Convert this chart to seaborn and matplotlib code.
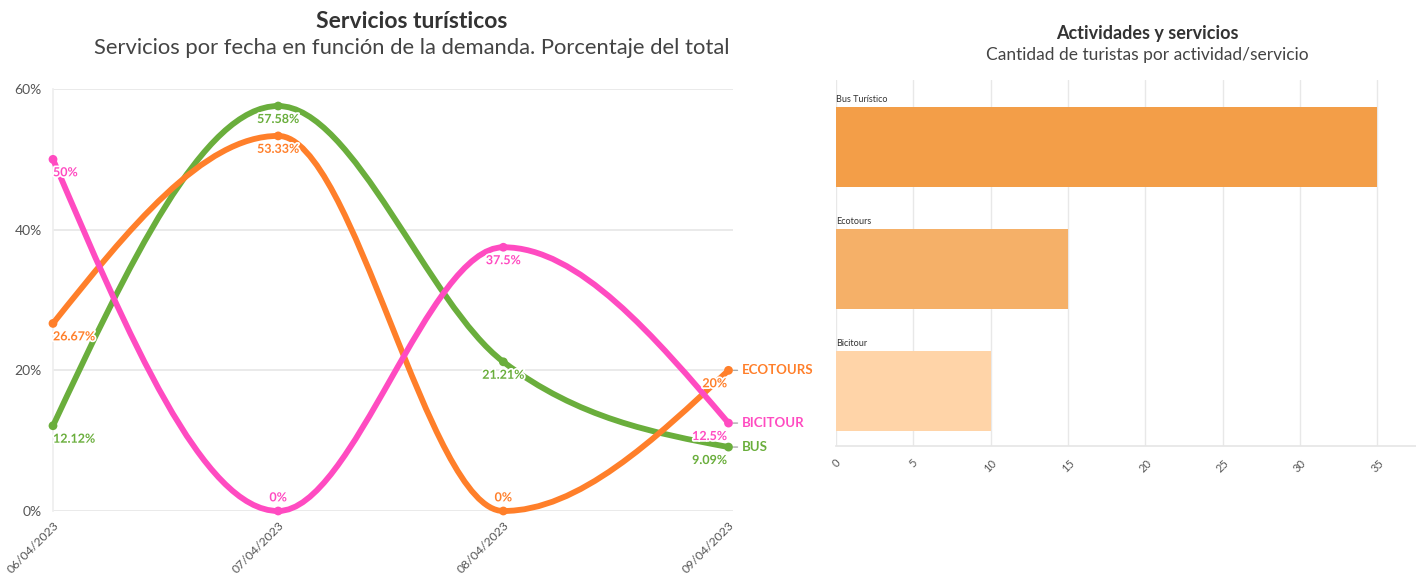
import numpy as np
import pandas as pd
import matplotlib.pyplot as plt
import matplotlib.patheffects as pe
from matplotlib.path import Path
from matplotlib.patches import PathPatch
import seaborn as sns

# datos
fechas = ["06/04/2023", "07/04/2023", "08/04/2023", "09/04/2023"]
series = ["BUS", "ECOTOURS", "BICITOUR"]
bus = [12.12, 57.58, 21.21, 9.09]
ecotours = [26.67, 53.33, 0, 20]
bicitour = [50, 0, 37.5, 12.5]
etiquetas_pct = {
    "BUS": ["12.12%", "57.58%", "21.21%", "9.09%"],
    "ECOTOURS": ["26.67%", "53.33%", "0%", "20%"],
    "BICITOUR": ["50%", "0%", "37.5%", "12.5%"],
}

actividades = ["Bus Turístico", "Ecotours", "Bicitour"]
turistas = [35, 15, 10]

colores = {"BUS": "#6aae3c", "ECOTOURS": "#ff7f2a", "BICITOUR": "#ff4bc1"}
colores_barras = ["#f39e48", "#f5b068", "#ffd4a8"]

sns.set_theme(style="white")
plt.rcParams['font.family'] = ['Lato', 'DejaVu Sans']


def monotone_path(x, y):
    # curva monotona (tipo d3 monotoneX) a partir de los puntos
    x = np.asarray(x, float)
    y = np.asarray(y, float)
    n = len(x)
    h = np.diff(x)
    s = np.diff(y) / h
    t = np.zeros(n)
    for i in range(1, n - 1):
        s0, s1 = s[i - 1], s[i]
        p = (s0 * h[i] + s1 * h[i - 1]) / (h[i - 1] + h[i])
        t[i] = (np.sign(s0) + np.sign(s1)) * min(abs(s0), abs(s1), 0.5 * abs(p))
    t[0] = (3 * s[0] - t[1]) / 2
    t[-1] = (3 * s[-1] - t[-2]) / 2
    verts = [(x[0], y[0])]
    codes = [Path.MOVETO]
    for i in range(n - 1):
        dx = h[i] / 3
        verts += [(x[i] + dx, y[i] + dx * t[i]),
                  (x[i + 1] - dx, y[i + 1] - dx * t[i + 1]),
                  (x[i + 1], y[i + 1])]
        codes += [Path.CURVE4] * 3
    return Path(verts, codes)


fig = plt.figure(figsize=(14.16, 5.77), dpi=100)
W, H = 1416, 577
ax1 = fig.add_axes([53 / W, (H - 511) / H, (733 - 53) / W, (511 - 89) / H])
ax2 = fig.add_axes([836 / W, (H - 446) / H, (W - 836) / W, (446 - 80) / H])

# ---- grafico de lineas
df = pd.DataFrame({"fecha": fechas * 3,
                   "x": list(range(len(fechas))) * 3,
                   "serie": np.repeat(series, len(fechas)),
                   "valor": bus + ecotours + bicitour})

for serie in series:
    d = df[df.serie == serie]
    ax1.add_patch(PathPatch(monotone_path(d.x, d.valor), fill=False,
                            edgecolor=colores[serie], lw=4.2, capstyle='round',
                            clip_on=False, zorder=3))
sns.scatterplot(data=df, x="x", y="valor", hue="serie", palette=colores,
                s=40, edgecolor="none", legend=False, ax=ax1, zorder=4, clip_on=False)

halo = [pe.withStroke(linewidth=2.5, foreground='white')]
for serie in series:
    d = df[df.serie == serie].reset_index(drop=True)
    for i, row in d.iterrows():
        txt = etiquetas_pct[serie][i]
        dy = 5.5 if row.valor == 0 else -5
        va = 'bottom' if row.valor == 0 else 'top'
        if i == 0:
            ha, dx = 'left', 0
        elif i == len(d) - 1:
            ha, dx = 'right', -1
        else:
            ha, dx = 'center', 0
        ax1.annotate(txt, (row.x, row.valor), xytext=(dx, dy), textcoords='offset points',
                     ha=ha, va=va, fontsize=9, fontweight='bold', color=colores[serie],
                     zorder=5, path_effects=halo)
    ult = d.iloc[-1]
    ax1.annotate(serie, (ult.x, ult.valor), xytext=(9.5, 0), textcoords='offset points',
                 ha='left', va='center', fontsize=9.5, fontweight='bold',
                 color=colores[serie], annotation_clip=False)
    ax1.annotate("", (ult.x, ult.valor), xytext=(6.5, 0), textcoords='offset points',
                 arrowprops=dict(arrowstyle='-', color='#aaaaaa', lw=1, shrinkA=0, shrinkB=3.5),
                 annotation_clip=False)

ax1.set_xlim(0, 3.02)
ax1.set_ylim(0, 60)
ax1.set_yticks([0, 20, 40, 60])
ax1.set_yticklabels(["0%", "20%", "40%", "60%"])
ax1.set_xticks(range(len(fechas)))
ax1.set_xticklabels(fechas, rotation=45, ha='right', rotation_mode='anchor')
ax1.tick_params(axis='x', labelsize=8.8, colors='#555555', length=5, color='#e6e6e6', pad=1)
ax1.tick_params(axis='y', labelsize=10, colors='#555555', length=0, pad=8)
ax1.grid(axis='y', color='#e6e6e6', lw=1.2)
ax1.set_xlabel("")
ax1.set_ylabel("")
for k in ["top", "right", "bottom"]:
    ax1.spines[k].set_visible(False)
ax1.spines["left"].set_color('#eeeeee')

fig.text(412 / W, 1 - 22 / H, "Servicios turísticos", ha='center', va='center',
         fontsize=16.5, fontweight='bold', color='#333333')
fig.text(412 / W, 1 - 48 / H, "Servicios por fecha en función de la demanda. Porcentaje del total",
         ha='center', va='center', fontsize=15.8, color='#444444')

# ---- grafico de barras
dfb = pd.DataFrame({"actividad": actividades, "turistas": turistas})
sns.barplot(data=dfb, y="actividad", x="turistas", hue="actividad", palette=colores_barras,
            orient='h', width=0.65, saturation=1, legend=False, ax=ax2, zorder=2,
            edgecolor='none')
for i, a in enumerate(actividades):
    ax2.text(0, i - 0.325 - 0.03, a, ha='left', va='bottom', fontsize=6.5, color='#333333')
ax2.set_xlim(0, 37.5)
ax2.set_ylim(2.45, -0.55)
ax2.set_xticks(range(0, 36, 5))
ax2.set_yticks([])
ax2.tick_params(axis='x', labelsize=8, colors='#555555', length=4, color='#e6e6e6', pad=4)
for lab in ax2.get_xticklabels():
    lab.set_rotation(45)
    lab.set_ha('center')
    lab.set_va('top')
ax2.grid(axis='x', color='#e8e8e8', lw=1, zorder=0)
ax2.set_xlabel("")
ax2.set_ylabel("")
for k in ["top", "right", "left"]:
    ax2.spines[k].set_visible(False)
ax2.spines["bottom"].set_color('#e6e6e6')

fig.text(1147 / W, 1 - 33 / H, "Actividades y servicios", ha='center', va='center',
         fontsize=13, fontweight='bold', color='#333333')
fig.text(1147 / W, 1 - 55 / H, "Cantidad de turistas por actividad/servicio", ha='center',
         va='center', fontsize=12.5, color='#444444')

fig.savefig("out.png", dpi=100)
